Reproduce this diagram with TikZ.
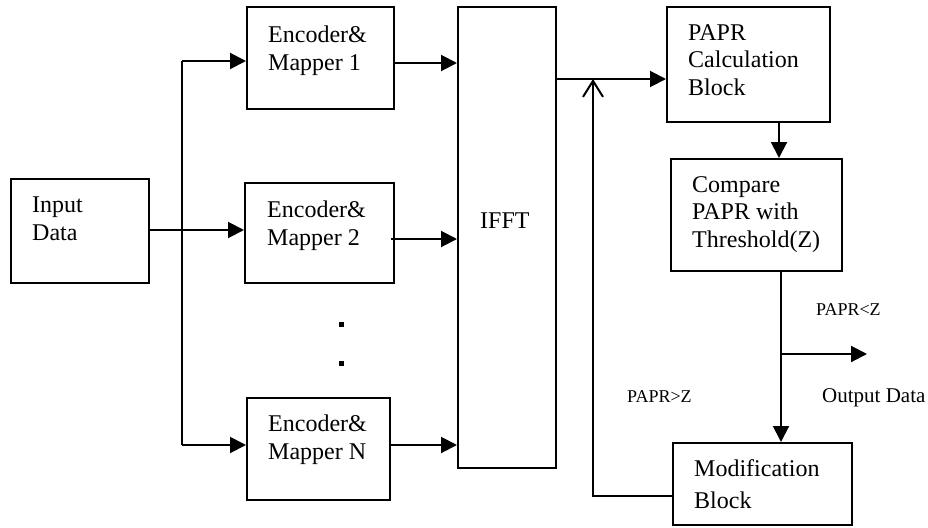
\documentclass[tikz,border=0pt]{standalone}
\usepackage{fontspec}
\setmainfont{Liberation Serif}
\usetikzlibrary{arrows.meta}
\begin{document}
\begin{tikzpicture}[x=1pt,y=-1pt,
  blk/.style={draw, line width=2pt, rectangle, inner sep=0pt},
  txt/.style={inner sep=0pt, align=left, anchor=north west, font=\fontsize{24}{27.5}\selectfont},
  lbl/.style={inner sep=0pt, anchor=base west},
  arr/.style={line width=2pt, -{Triangle[length=16pt,width=16pt]}},
  ln/.style={line width=2pt},
  fb/.style={line width=2pt, -{Straight Barb[length=16pt,width=20pt,line width=2pt]}}]
\useasboundingbox (0,0) rectangle (928,527);
% boxes
\node[blk, minimum width=138pt, minimum height=104pt] (in) at (80,231) {};
\node[blk, minimum width=147pt, minimum height=102pt] (enc1) at (320.5,58) {};
\node[blk, minimum width=149pt, minimum height=100pt] (enc2) at (319.5,233) {};
\node[blk, minimum width=143pt, minimum height=102pt] (encN) at (318.5,449) {};
\node[blk, minimum width=98pt, minimum height=461pt] (ifft) at (507,237.5) {};
\node[blk, minimum width=163pt, minimum height=115pt] (calc) at (748.5,64.5) {};
\node[blk, minimum width=171pt, minimum height=112pt] (cmp) at (756.5,215) {};
\node[blk, minimum width=179pt, minimum height=82pt] (mod) at (762.5,484) {};
% texts
\node[txt] (tin) at (32,197) {Input\\Data};
\node[txt] (tenc1) at (268,26) {Encoder\&\\Mapper 1};
\node[txt] (tenc2) at (267,201) {Encoder\&\\Mapper 2};
\node[txt] (tencN) at (268,415) {Encoder\&\\Mapper N};
\node[lbl, font=\fontsize{24}{27.5}\selectfont] (tifft) at (480,228) {IFFT};
\node[txt] (tcalc) at (688,24) {PAPR\\Calculation\\Block};
\node[txt] (tcmp) at (692,176) {Compare\\PAPR with\\Threshold(Z)};
\node[txt, font=\fontsize{24}{32}\selectfont] (tmod) at (694,459) {Modification\\Block};
\node[lbl, font=\fontsize{18}{20}\selectfont] (lt) at (816,315) {PAPR<Z};
\node[lbl, font=\fontsize{21}{24}\selectfont] (lout) at (822,402) {Output Data};
\node[lbl, font=\fontsize{18}{20}\selectfont] (lgt) at (627,402) {PAPR>Z};
% dots
\node[fill, minimum size=5pt, inner sep=0pt] (d1) at (341,324) {};
\node[fill, minimum size=5pt, inner sep=0pt] (d2) at (341,363) {};
% coordinates
\coordinate (b1) at (182,61);
\coordinate (bN) at (182,445);
\coordinate (fbtop) at (593,79);
\coordinate (fbbot) at (593,496);
\coordinate (split) at (781,354);
\coordinate (out) at (867,354);
% connectors
\draw[ln] (b1) -- (bN);
\draw[arr] (b1) -- (b1 -| enc1.west);
\draw[arr] (bN) -- (bN -| encN.west);
\draw[arr] (in.east |- 0,230) -- (enc2.west |- 0,230);
\draw[arr] (enc1.east |- 0,63) -- (ifft.west |- 0,63);
\draw[arr] (391,239) -- (ifft.west |- 0,239);
\draw[arr] (encN.east |- 0,445) -- (ifft.west |- 0,445);
\draw[arr] (ifft.east |- fbtop) -- (calc.west |- fbtop);
\draw[fb] (mod.west |- fbbot) -- (fbbot) -- (fbtop);
\draw[arr] (calc.south -| 779,0) -- (cmp.north -| 779,0);
\draw[arr] (cmp.south -| split) -- (mod.north -| split);
\draw[arr] (split) -- (out);
\end{tikzpicture}
\end{document}
